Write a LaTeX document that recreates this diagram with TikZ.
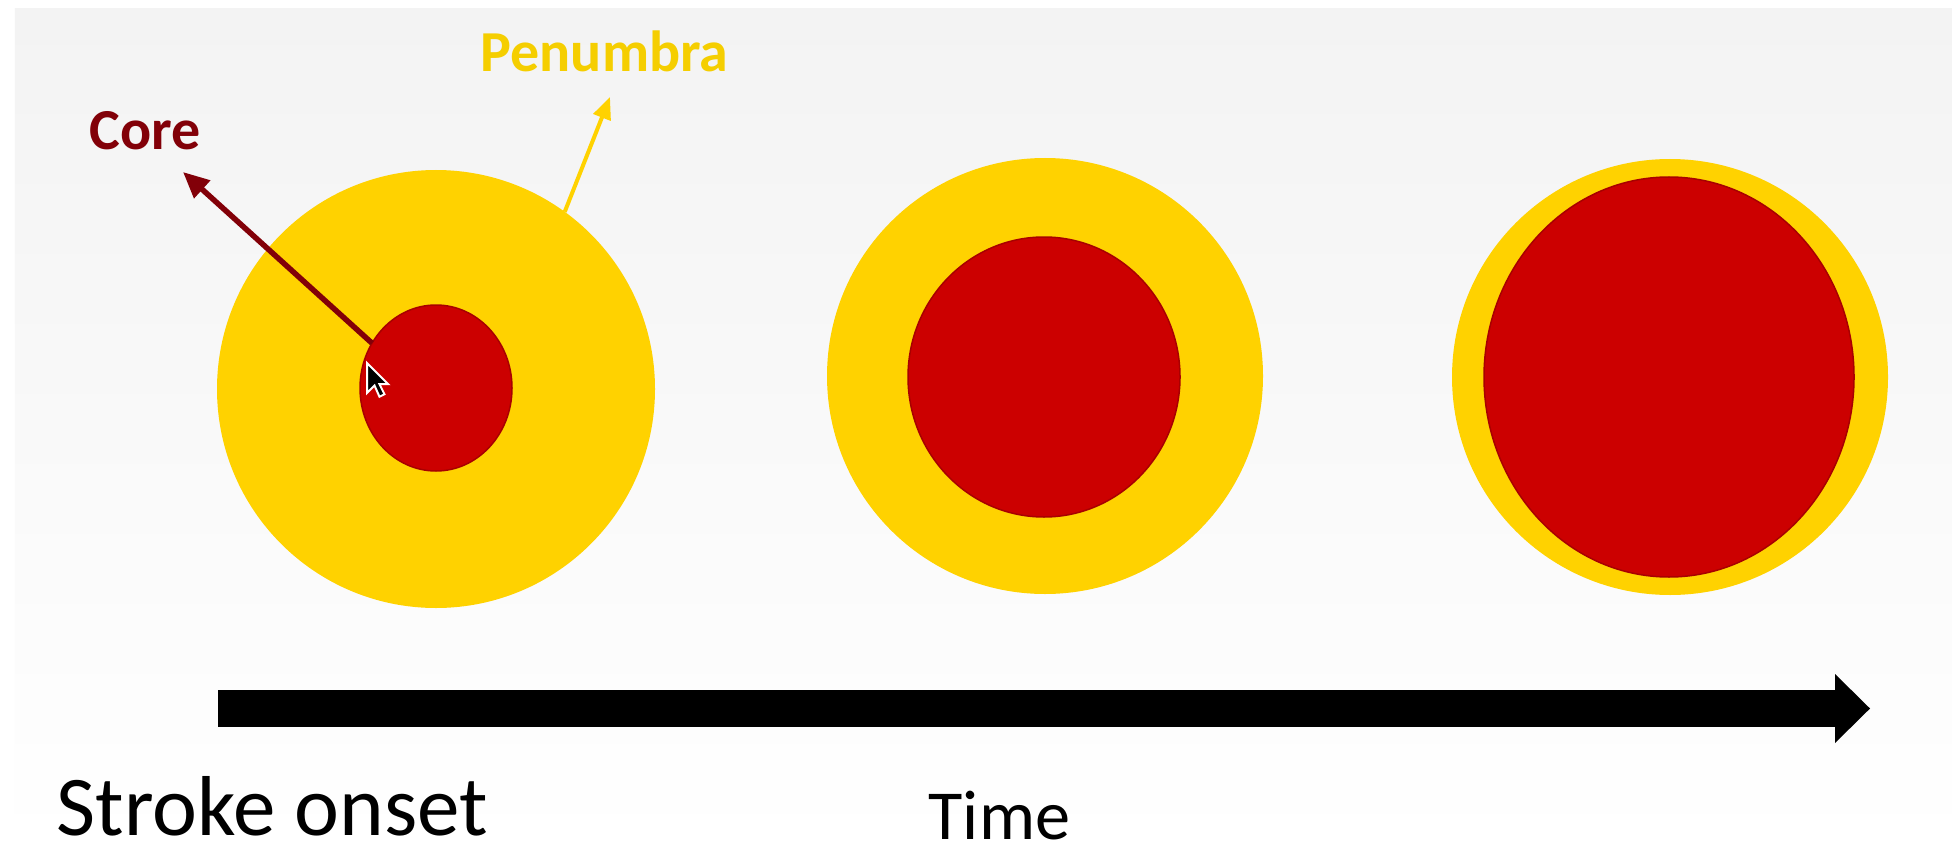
\documentclass[tikz,border=0pt]{standalone}
\usepackage{fontspec}
\setmainfont{Carlito}
\usepackage{tikz}
\usepackage{xcolor}
\usetikzlibrary{shapes.geometric,arrows.meta,positioning}
\definecolor{PenumbraGold}{HTML}{FFD200}
\definecolor{CoreRed}{HTML}{CC0000}
\definecolor{CoreRim}{HTML}{A80000}
\definecolor{CoreLabel}{HTML}{820008}
\definecolor{PenumbraLabel}{HTML}{F5CE00}
\definecolor{BgGray}{HTML}{F3F3F3}
\tikzset{
    % Penumbra (outer disc)
    penumbranode/.style={
        circle,
        fill=PenumbraGold,
        inner sep=0pt,
        outer sep=0pt,
        minimum size=#1
    },
    % Core (inner disc)
    corenode/.style={
        ellipse,
        fill=CoreRed,
        draw=CoreRim,
        line width=0.15mm,
        inner sep=0pt,
        outer sep=0pt
    },
    % Labels
    labelnode/.style={
        inner sep=0pt,
        anchor=base west,
        font=\fontsize{16.5}{20}\selectfont\bfseries
    },
    captionnode/.style={
        inner sep=0pt,
        anchor=base west
    },
    % Pointer arrows
    corearrow/.style={
        -{Triangle[length=2.6mm,width=2.3mm]},
        line width=0.55mm,
        draw=CoreLabel
    },
    penarrow/.style={
        -{Triangle[length=2.2mm,width=1.8mm]},
        line width=0.4mm,
        draw=PenumbraGold
    },
    % Time axis
    timearrow/.style={
        -{Triangle[length=3.5mm,width=6.9mm,line width=0pt]},
        line width=3.7mm,
        draw=black
    }
}

\begin{document}
\begin{tikzpicture}
        % Background
        \fill[white] (0,0) rectangle (19.52,8.48);
        \shade[top color=BgGray, bottom color=white] (0.15,0) rectangle (19.52,8.39);
        \useasboundingbox (0,0) rectangle (19.52,8.48);

        % Stage 1
        \node[penumbranode=4.38cm] (pen1) at (4.36,4.59) {};
        \node[corenode, minimum width=1.52cm, minimum height=1.66cm] (core1) at (4.36,4.60) {};

        % Stage 2
        \node[penumbranode=4.36cm] (pen2) at (10.45,4.72) {};
        \node[corenode, minimum width=2.72cm, minimum height=2.80cm] (core2) at (10.44,4.71) {};

        % Stage 3
        \node[penumbranode=4.36cm] (pen3) at (16.70,4.71) {};
        \node[corenode, minimum width=3.70cm, minimum height=4.00cm] (core3) at (16.69,4.71) {};

        % Labels
        \node[labelnode, text=CoreLabel] (corelbl) at (0.89,6.98) {Core};
        \node[labelnode, text=PenumbraLabel] (penlbl) at (4.80,7.76) {Penumbra};
        \coordinate (coretip) at (1.83,6.76);
        \coordinate (pentip) at (6.10,7.51);

        % Arrows
        \draw[penarrow] (pen1.54) -- (pentip);
        \draw[corearrow] (core1.145) -- (coretip);

        % Mouse pointer
        \coordinate (cursor) at (3.67,4.85);
        \fill[black, draw=white, line width=0.2mm, shift={(cursor)}, scale=0.0125]
            (0,0) -- (0,-24) -- (6,-18) -- (10,-27) -- (14,-25) -- (10,-17) -- (17,-17) -- cycle;

        % Time axis
        \coordinate (tstart) at (2.18,1.395);
        \coordinate (tend) at (18.70,1.395);
        \draw[timearrow] (tstart) -- (tend);
        \node[captionnode, font=\fontsize{24.2}{28}\selectfont] (onset) at (0.56,0.13) {Stroke onset};
        \node[captionnode, font=\fontsize{20}{24}\selectfont] (time) at (9.28,0.09) {Time};
    \end{tikzpicture}
\end{document}
